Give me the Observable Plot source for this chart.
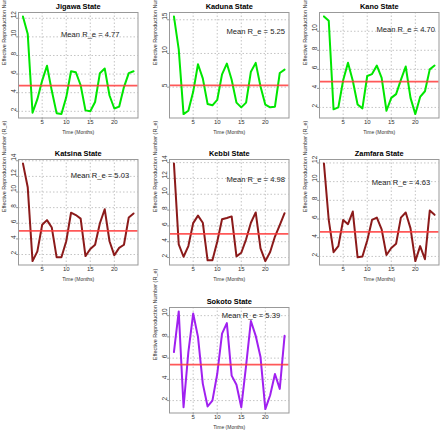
<!DOCTYPE html>
<html><head><meta charset="utf-8">
<script src="https://cdn.jsdelivr.net/npm/d3@7"></script>
<script src="https://cdn.jsdelivr.net/npm/@observablehq/plot@0.6"></script>
<style>
html,body{margin:0;padding:0;background:#fff;overflow:hidden}
#chart{position:relative;width:440px;height:432px;font-family:"Liberation Sans",Arial,sans-serif}
.panel{position:absolute}
</style></head><body><div id="chart"></div>
<script>
// ---- data ----
const months = [1,2,3,4,5,6,7,8,9,10,11,12,13,14,15,16,17,18,19,20,21,22,23,24];
const states = ["Jigawa State","Kaduna State","Kano State","Katsina State","Kebbi State","Zamfara State","Sokoto State"];
const jigawa  = [12.2,10.3,1.85,3.3,5.3,6.9,4.2,1.8,1.7,3.5,6.3,6.2,4.8,2.1,2.0,3.0,6.1,6.6,3.7,2.3,2.5,4.6,6.1,6.3];
const kaduna  = [15.5,10.6,1.0,1.5,4.3,8.4,6.3,2.5,2.3,3.1,6.9,8.5,6.1,2.7,2.0,2.7,7.3,8.6,5.1,2.4,2.0,2.1,7.1,7.6];
const kano    = [11.56,11.1,1.8,2.0,4.85,6.7,4.8,2.3,1.9,5.3,5.5,6.4,5.1,1.65,3.0,3.4,4.9,6.3,3.0,1.3,3.1,3.7,6.0,6.4];
const katsina = [13.66,10.6,1.16,2.4,5.8,6.4,5.45,1.66,1.66,3.7,7.35,7.05,6.6,1.8,2.7,3.25,6.0,7.8,3.7,1.9,2.85,3.25,6.75,7.25];
const kebbi   = [13.9,3.65,2.1,3.45,6.35,7.3,6.4,1.65,1.65,4.0,6.85,7.0,7.2,2.15,2.6,4.3,6.4,7.7,3.15,1.55,2.7,4.65,6.1,7.6];
const zamfara = [11.95,5.9,2.45,3.1,5.9,5.45,6.8,1.9,2.0,3.7,5.9,6.15,4.9,2.15,2.9,3.35,6.15,6.7,5.0,1.5,3.1,1.7,6.9,6.45];
const sokoto  = [6.57,10.4,1.37,6.57,10.2,8.0,3.6,1.45,2.0,4.5,8.3,9.3,4.35,3.5,1.37,5.3,9.5,8.1,6.1,1.2,2.5,4.5,3.1,8.1];
const means   = [4.77,5.25,4.70,5.03,4.98,4.63,5.39];
const xTicks  = [5,10,15,20];
const yTickStep = [2,5,2,2,2,2,2];
const noteMonth = [15,18,18,17,18,17,17];
const noteValue = [10.2,13.2,10.2,12.1,11.8,9.9,10.0];

// ---- layout / style ----
const series = [jigawa,kaduna,kano,katsina,kebbi,zamfara,sokoto];
const colors = ["#00e600","#00e600","#00e600","#8b1a1a","#8b1a1a","#8b1a1a","#a020f0"];
const lefts = [0.3,151,301,0.3,151,301,151];
const tops  = [0.3,0.3,0.3,147.3,147.3,147.3,294.5];
const font = "Liberation Sans";

const chart = document.getElementById("chart");
series.forEach((vals, i) => {
  const data = months.map((m, k) => ({month: m, re: vals[k]}));
  const lo = d3.min(vals), hi = d3.max(vals), pad = (hi - lo) * 0.04;
  const xlo = d3.min(months), xhi = d3.max(months), xpad = (xhi - xlo) * 0.04;
  const step = yTickStep[i];
  const yTicks = d3.range(Math.ceil((lo - pad) / step) * step, hi + pad + 1e-9, step);
  const grid = {stroke: "#c4c4c4", strokeOpacity: 1, strokeDasharray: "1.5,2"};
  const svg = Plot.plot({
    width: 138.5, height: 138,
    marginLeft: 18, marginRight: 1, marginTop: 12, marginBottom: 20.5,
    style: {fontFamily: font, background: "white", overflow: "visible"},
    x: {domain: [xlo - xpad, xhi + xpad]},
    y: {domain: [lo - pad, hi + pad]},
    marks: [
      Plot.gridX(xTicks, grid),
      Plot.gridY(yTicks, grid),
      Plot.line(data, {x: "month", y: "re", stroke: colors[i], strokeWidth: 2}),
      Plot.ruleY([means[i]], {stroke: "#ff3b3b", strokeOpacity: 0.85, strokeWidth: 1.7}),
      Plot.frame({stroke: "#999"}),
      Plot.axisX(xTicks, {tickSize: 2, fill: "none", stroke: "#999", label: null}),
      Plot.axisY(yTicks, {tickSize: 2, fill: "none", stroke: "#999", label: null}),
      Plot.text(xTicks, {x: d => d, text: d => String(d), frameAnchor: "bottom", dy: 5.8, fontSize: 6, fill: "#333"}),
      Plot.text(yTicks, {y: d => d, text: d => String(d), frameAnchor: "left", dx: -4.5, rotate: -90, fontSize: 6.5, fill: "#333"}),
      Plot.text([states[i]], {text: d => d, frameAnchor: "top", dy: -8.4, fontWeight: "bold", fontSize: 7.4, fill: "#000"}),
      Plot.text(["Time (Months)"], {text: d => d, frameAnchor: "bottom", dy: 15.6, fontSize: 5, fill: "#333"}),
      Plot.text(["Effective Reproduction Number (R_e)"], {text: d => d, frameAnchor: "left", dx: -14.5, rotate: -90, fontSize: 5.5, fill: "#333"}),
      Plot.text([{m: noteMonth[i], v: noteValue[i], t: `Mean R_e = ${means[i].toFixed(2)}`}],
        {x: "m", y: "v", text: "t", fontSize: 7.6, fill: "#222"})
    ]
  });
  const div = document.createElement("div");
  div.className = "panel";
  div.style.left = lefts[i] + "px";
  div.style.top = tops[i] + "px";
  div.appendChild(svg);
  chart.appendChild(div);
});
</script>
</body></html>
